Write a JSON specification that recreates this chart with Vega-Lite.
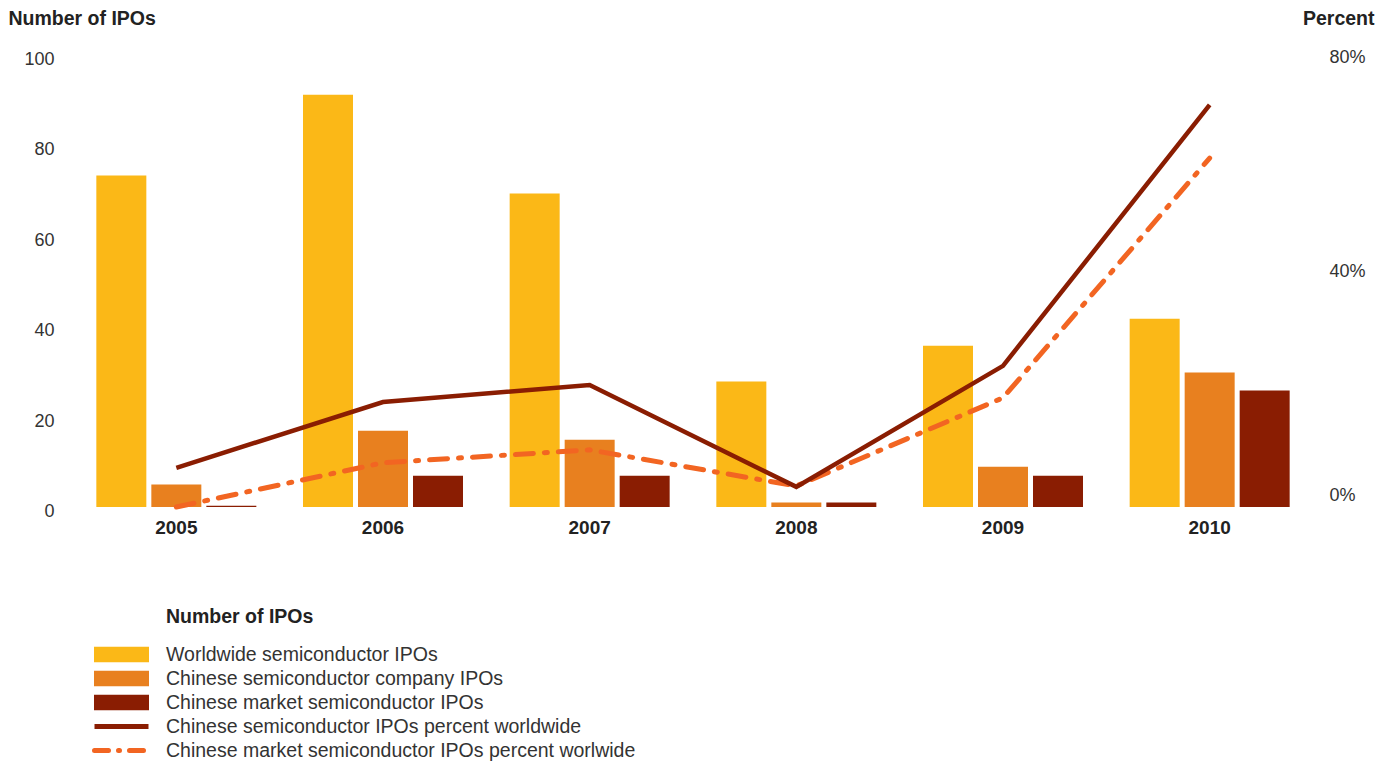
{
  "$schema": "https://vega.github.io/schema/vega-lite/v6.json",
  "width": 1240,
  "height": 448,
  "autosize": {"type": "none"},
  "padding": {"left": 73, "top": 59, "right": 76, "bottom": 255},
  "background": "white",
  "config": {
    "view": {"stroke": null},
    "font": "Liberation Sans",
    "axis": {"grid": false, "ticks": false, "domain": false}
  },
  "datasets": {
    "bars": [
      {"year": "2005", "series": "Worldwide semiconductor IPOs", "count": 74},
      {"year": "2005", "series": "Chinese semiconductor company IPOs", "count": 5},
      {"year": "2005", "series": "Chinese market semiconductor IPOs", "count": 0.3},
      {"year": "2006", "series": "Worldwide semiconductor IPOs", "count": 92},
      {"year": "2006", "series": "Chinese semiconductor company IPOs", "count": 17},
      {"year": "2006", "series": "Chinese market semiconductor IPOs", "count": 7},
      {"year": "2007", "series": "Worldwide semiconductor IPOs", "count": 70},
      {"year": "2007", "series": "Chinese semiconductor company IPOs", "count": 15},
      {"year": "2007", "series": "Chinese market semiconductor IPOs", "count": 7},
      {"year": "2008", "series": "Worldwide semiconductor IPOs", "count": 28},
      {"year": "2008", "series": "Chinese semiconductor company IPOs", "count": 1},
      {"year": "2008", "series": "Chinese market semiconductor IPOs", "count": 1},
      {"year": "2009", "series": "Worldwide semiconductor IPOs", "count": 36},
      {"year": "2009", "series": "Chinese semiconductor company IPOs", "count": 9},
      {"year": "2009", "series": "Chinese market semiconductor IPOs", "count": 7},
      {"year": "2010", "series": "Worldwide semiconductor IPOs", "count": 42},
      {"year": "2010", "series": "Chinese semiconductor company IPOs", "count": 30},
      {"year": "2010", "series": "Chinese market semiconductor IPOs", "count": 26}
    ],
    "lines": [
      {"year": "2005", "series": "Chinese market semiconductor IPOs percent worlwide", "pct": 0},
      {"year": "2006", "series": "Chinese market semiconductor IPOs percent worlwide", "pct": 7.9},
      {"year": "2007", "series": "Chinese market semiconductor IPOs percent worlwide", "pct": 10.2},
      {"year": "2008", "series": "Chinese market semiconductor IPOs percent worlwide", "pct": 3.75},
      {"year": "2009", "series": "Chinese market semiconductor IPOs percent worlwide", "pct": 19.5},
      {"year": "2010", "series": "Chinese market semiconductor IPOs percent worlwide", "pct": 62.3},
      {"year": "2005", "series": "Chinese semiconductor IPOs percent worldwide", "pct": 7.0},
      {"year": "2006", "series": "Chinese semiconductor IPOs percent worldwide", "pct": 18.75},
      {"year": "2007", "series": "Chinese semiconductor IPOs percent worldwide", "pct": 21.8},
      {"year": "2008", "series": "Chinese semiconductor IPOs percent worldwide", "pct": 3.6},
      {"year": "2009", "series": "Chinese semiconductor IPOs percent worldwide", "pct": 25.2},
      {"year": "2010", "series": "Chinese semiconductor IPOs percent worldwide", "pct": 71.8}
    ]
  },
  "layer": [
    {
      "data": {"name": "bars"},
      "mark": {"type": "bar"},
      "encoding": {
        "x": {
          "field": "year", "type": "nominal",
          "scale": {"paddingInner": 0.2258, "paddingOuter": 0.1129},
          "axis": {"title": null, "labelAngle": 0, "labelFontSize": 19, "labelFontWeight": "bold", "labelColor": "#222222", "labelPadding": 11}
        },
        "xOffset": {
          "field": "series", "type": "nominal",
          "scale": {"domain": ["Worldwide semiconductor IPOs", "Chinese semiconductor company IPOs", "Chinese market semiconductor IPOs"], "paddingInner": 0.0909, "paddingOuter": 0}
        },
        "y": {
          "field": "count", "type": "quantitative",
          "scale": {"domain": [0, 100]},
          "axis": {
            "values": [0, 20, 40, 60, 80, 100],
            "title": "Number of IPOs", "titleAngle": 0, "titleAlign": "left", "titleBaseline": "middle",
            "titleX": -65, "titleY": -41, "titleFontSize": 19.5, "titleFontWeight": "bold", "titleColor": "#222222",
            "labelFontSize": 18, "labelColor": "#333333", "labelPadding": 19,
            "labelOffset": {"expr": "(100 - datum.value) * 0.045"}
          }
        },
        "color": {
          "field": "series", "type": "nominal",
          "scale": {
            "domain": ["Worldwide semiconductor IPOs", "Chinese semiconductor company IPOs", "Chinese market semiconductor IPOs", "Chinese semiconductor IPOs percent worldwide", "Chinese market semiconductor IPOs percent worlwide"],
            "range": ["#FBB817", "#E8801F", "#8A1D02", "#8A1D02", "#F26522"]
          },
          "legend": {
            "orient": "none", "legendX": 38.5, "legendY": 548.5,
            "direction": "vertical",
            "title": "Number of IPOs", "titleFontSize": 19.5, "titleFontWeight": "bold", "titleColor": "#222222", "titlePadding": 17.5,
            "labelFontSize": 19.5, "labelColor": "#333333", "labelLimit": 800, "labelOffset": 34.5,
            "symbolSize": 225, "symbolStrokeWidth": 5, "rowPadding": 4,
            "encode": {
              "title": {"update": {"dx": {"value": 54.5}}},
              "symbols": {"update": {
                "shape": {"signal": "indexof(datum.value, 'percent') >= 0 ? 'M-3.6,0L3.6,0' : 'M-3.667,-1.04L3.667,-1.04L3.667,1.04L-3.667,1.04Z'"},
                "fill": {"scale": "color", "field": "value"},
                "fillOpacity": {"signal": "indexof(datum.value, 'percent') >= 0 ? 0 : 1"},
                "stroke": {"scale": "color", "field": "value"},
                "strokeOpacity": {"signal": "indexof(datum.value, 'percent') >= 0 ? 1 : 0"},
                "strokeDash": {"signal": "indexof(datum.value, 'worlwide') >= 0 ? [14, 10, 1, 10] : [1, 0]"},
                "strokeCap": {"signal": "indexof(datum.value, 'worlwide') >= 0 ? 'round' : 'butt'"}
              }}
            }
          }
        }
      }
    },
    {
      "layer": [
        {
          "data": {"name": "lines"},
          "transform": [{"filter": "indexof(datum.series, 'worlwide') >= 0"}],
          "mark": {"type": "line", "strokeWidth": 5, "strokeCap": "round", "strokeDash": [18, 11, 3, 11]},
          "encoding": {
            "x": {"field": "year", "type": "nominal"},
            "y": {
              "field": "pct", "type": "quantitative",
              "scale": {"domain": [0, 80]},
              "axis": {
                "orient": "right", "values": [0, 40, 80], "labelExpr": "datum.value + '%'",
                "labelAlign": "left", "labelPadding": 16, "labelFontSize": 18, "labelColor": "#333333",
                "labelOffset": {"expr": "datum.value == 80 ? -2 : -12"},
                "title": "Percent", "titleAngle": 0, "titleAlign": "right", "titleBaseline": "middle",
                "titleX": 61, "titleY": -41, "titleFontSize": 19.5, "titleFontWeight": "bold", "titleColor": "#222222"
              }
            },
            "color": {"field": "series", "type": "nominal"}
          }
        },
        {
          "data": {"name": "lines"},
          "transform": [{"filter": "indexof(datum.series, 'worldwide') >= 0"}],
          "mark": {"type": "line", "strokeWidth": 4.5, "strokeCap": "butt"},
          "encoding": {
            "x": {"field": "year", "type": "nominal"},
            "y": {"field": "pct", "type": "quantitative"},
            "color": {"field": "series", "type": "nominal"}
          }
        }
      ]
    }
  ],
  "resolve": {"scale": {"y": "independent"}}
}
